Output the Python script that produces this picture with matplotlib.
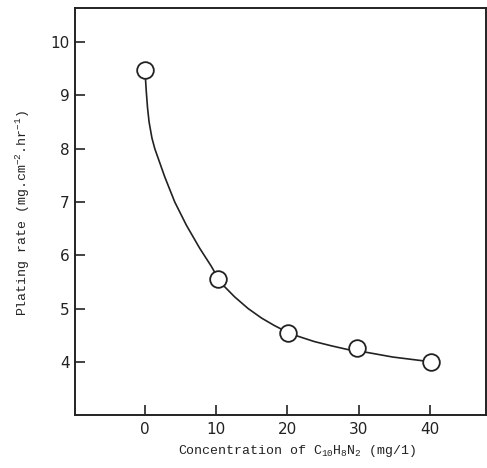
import matplotlib
matplotlib.use("Agg")
import matplotlib.pyplot as plt

# measured points (open circles)
conc = [0, 10.25, 20.1, 29.8, 40.2]
rate = [9.48, 5.56, 4.55, 4.25, 4.0]

# hand-drawn curve
curve_x = [0.0, 0.1, 0.22, 0.38, 0.6, 1.0, 1.4, 2.8, 4.2, 5.85, 7.71, 9.3, 10.25, 11.2,
           12.6, 14.5, 16.4, 18.2, 20.1, 21.5, 23.8, 26.2, 28.5, 29.8, 34.8, 40.2]
curve_y = [9.45, 9.3, 9.05, 8.77, 8.5, 8.2, 8.0, 7.47, 7.0, 6.56, 6.13, 5.8, 5.58, 5.41,
           5.22, 5.0, 4.82, 4.68, 4.55, 4.48, 4.38, 4.30, 4.23, 4.21, 4.09, 4.0]

xticks = [0, 10, 20, 30, 40]
yticks = [4, 5, 6, 7, 8, 9, 10]

plt.rcParams['mathtext.fontset'] = 'custom'
plt.rcParams['mathtext.rm'] = 'Liberation Mono'
plt.rcParams['mathtext.it'] = 'Liberation Mono'

fig = plt.figure(figsize=(4.87, 4.68), dpi=100)
ax = fig.add_axes([0.154, 0.113, 0.844, 0.870])

ax.plot(curve_x, curve_y, color='#222222', linewidth=1.2)
ax.plot(conc, rate, 'o', markersize=12, markerfacecolor='white',
        markeredgecolor='#222222', markeredgewidth=1.3)

ax.set_xlim(-9.8, 47.9)
ax.set_ylim(3.0, 10.64)
ax.set_xticks(xticks)
ax.set_yticks(yticks)
ax.tick_params(direction='in', length=7, width=1.2, labelsize=11, colors='#222222')
ax.tick_params(axis='y', pad=4)
ax.tick_params(axis='x', pad=5)
for lab in ax.get_xticklabels() + ax.get_yticklabels():
    lab.set_family('DejaVu Sans')

for s in ax.spines.values():
    s.set_linewidth(1.4)
    s.set_color('#222222')

ax.set_xlabel(r'Concentration of C$_{10}$H$_8$N$_2$ (mg/1)', family='Liberation Mono',
              fontsize=9.5, color='#222222')
ax.set_ylabel(r'Plating rate (mg.cm$^{-2}$.hr$^{-1}$)', family='Liberation Mono',
              fontsize=9.5, color='#222222')
ax.xaxis.set_label_coords(0.54, -0.068)
ax.yaxis.set_label_coords(-0.105, 0.495)

plt.savefig('out.png', dpi=100)
